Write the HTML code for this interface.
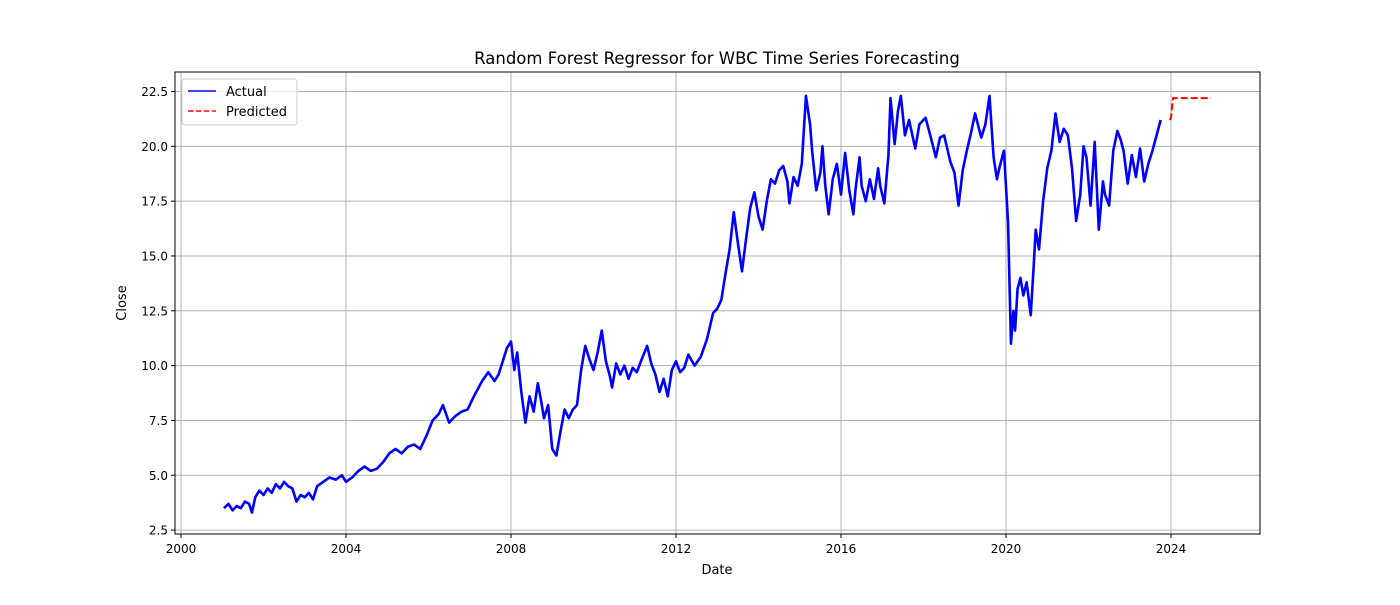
<!DOCTYPE html>
<html><head><meta charset="utf-8"><style>
body{margin:0;background:#fff;font-family:"Liberation Sans","DejaVu Sans",sans-serif;}
svg text{font-family:"DejaVu Sans","Liberation Sans",sans-serif;}
</style></head><body>
<svg id="chart" width="1400" height="600" xmlns="http://www.w3.org/2000/svg">
<rect width="1400" height="600" fill="#fff"/>
<g id="grid"></g><g id="series"></g>
<rect x="175" y="72" width="1085" height="462" fill="none" stroke="#000" stroke-width="1"/>
<g id="axes"></g>
<text x="717" y="64" text-anchor="middle" font-size="16.5">Random Forest Regressor for WBC Time Series Forecasting</text>
<text x="717" y="574" text-anchor="middle" font-size="13">Date</text>
<text x="126" y="303" text-anchor="middle" font-size="13" transform="rotate(-90 126 303)">Close</text>
<g>
<rect x="182" y="79" width="115" height="46" rx="3" fill="#fff" fill-opacity="0.8" stroke="#ccc"/>
<line x1="188" y1="91" x2="216" y2="91" stroke="#0000ff" stroke-width="1.5"/>
<text x="226" y="96" font-size="13">Actual</text>
<line x1="188" y1="111" x2="216" y2="111" stroke="#ff0000" stroke-width="1.5" stroke-dasharray="5.5,2.4"/>
<text x="226" y="116" font-size="13">Predicted</text>
</g>
</svg>
<script>
const xTicks=[2000,2004,2008,2012,2016,2020,2024];
const yTicks=[2.5,5.0,7.5,10.0,12.5,15.0,17.5,20.0,22.5];
const actualYears=[2001.04,2001.15,2001.25,2001.35,2001.45,2001.55,2001.65,2001.72,2001.8,2001.9,2002.0,2002.1,2002.2,2002.3,2002.4,2002.5,2002.6,2002.7,2002.8,2002.9,2003.0,2003.1,2003.2,2003.3,2003.45,2003.6,2003.75,2003.9,2004.0,2004.15,2004.3,2004.45,2004.6,2004.75,2004.9,2005.05,2005.2,2005.35,2005.5,2005.65,2005.8,2005.95,2006.1,2006.25,2006.35,2006.5,2006.65,2006.8,2006.95,2007.1,2007.3,2007.45,2007.6,2007.7,2007.8,2007.9,2008.0,2008.08,2008.15,2008.25,2008.35,2008.45,2008.55,2008.65,2008.72,2008.8,2008.9,2009.0,2009.1,2009.2,2009.3,2009.4,2009.5,2009.6,2009.7,2009.8,2009.9,2010.0,2010.1,2010.2,2010.3,2010.4,2010.45,2010.55,2010.65,2010.75,2010.85,2010.95,2011.05,2011.15,2011.3,2011.4,2011.5,2011.6,2011.7,2011.8,2011.9,2012.0,2012.1,2012.2,2012.3,2012.45,2012.6,2012.75,2012.9,2013.0,2013.1,2013.2,2013.3,2013.4,2013.5,2013.6,2013.7,2013.8,2013.9,2014.0,2014.1,2014.2,2014.3,2014.4,2014.5,2014.6,2014.7,2014.75,2014.85,2014.95,2015.05,2015.15,2015.25,2015.3,2015.4,2015.5,2015.55,2015.62,2015.7,2015.8,2015.9,2016.0,2016.1,2016.2,2016.3,2016.35,2016.45,2016.5,2016.6,2016.7,2016.8,2016.9,2016.95,2017.05,2017.15,2017.2,2017.3,2017.38,2017.45,2017.55,2017.65,2017.8,2017.9,2018.05,2018.15,2018.3,2018.4,2018.5,2018.65,2018.75,2018.85,2018.95,2019.05,2019.15,2019.25,2019.4,2019.5,2019.6,2019.7,2019.78,2019.85,2019.95,2020.05,2020.12,2020.18,2020.22,2020.28,2020.35,2020.42,2020.5,2020.6,2020.67,2020.72,2020.8,2020.9,2021.0,2021.1,2021.2,2021.3,2021.4,2021.5,2021.6,2021.7,2021.8,2021.88,2021.95,2022.05,2022.15,2022.25,2022.35,2022.4,2022.5,2022.6,2022.7,2022.78,2022.85,2022.95,2023.05,2023.15,2023.25,2023.35,2023.45,2023.55,2023.65,2023.75,2023.82,2023.9,2023.97];
const actualValues=[3.5,3.7,3.4,3.6,3.5,3.8,3.7,3.3,4.0,4.3,4.1,4.4,4.2,4.6,4.4,4.7,4.5,4.4,3.8,4.1,4.0,4.2,3.9,4.5,4.7,4.9,4.8,5.0,4.7,4.9,5.2,5.4,5.2,5.3,5.6,6.0,6.2,6.0,6.3,6.4,6.2,6.8,7.5,7.8,8.2,7.4,7.7,7.9,8.0,8.6,9.3,9.7,9.3,9.6,10.2,10.8,11.1,9.8,10.6,8.8,7.4,8.6,7.9,9.2,8.5,7.6,8.2,6.2,5.9,7.0,8.0,7.6,8.0,8.2,9.8,10.9,10.3,9.8,10.6,11.6,10.2,9.5,9.0,10.1,9.6,10.0,9.4,9.9,9.7,10.2,10.9,10.1,9.6,8.8,9.4,8.6,9.8,10.2,9.7,9.9,10.5,10.0,10.4,11.2,12.4,12.6,13.0,14.2,15.3,17.0,15.6,14.3,15.8,17.2,17.9,16.8,16.2,17.5,18.5,18.3,18.9,19.1,18.4,17.4,18.6,18.2,19.2,22.3,21.0,19.8,18.0,18.8,20.0,18.2,16.9,18.5,19.2,17.8,19.7,18.0,16.9,18.0,19.5,18.2,17.5,18.5,17.6,19.0,18.2,17.4,19.6,22.2,20.1,21.6,22.3,20.5,21.2,19.9,21.0,21.3,20.6,19.5,20.4,20.5,19.3,18.8,17.3,18.9,19.8,20.6,21.5,20.4,21.0,22.3,19.5,18.5,19.1,19.8,16.5,11.0,12.5,11.6,13.5,14.0,13.2,13.8,12.3,14.5,16.2,15.3,17.5,19.0,19.8,21.5,20.2,20.8,20.5,19.0,16.6,17.8,20.0,19.5,17.3,20.2,16.2,18.4,17.8,17.3,19.8,20.7,20.3,19.8,18.3,19.6,18.6,19.9,18.4,19.2,19.8,20.5,21.2];
const predYears=[2023.97,2024.0,2024.02,2024.05,2024.1,2024.97];
const predValues=[21.2,21.3,21.7,22.2,22.2,22.2];
const NS='http://www.w3.org/2000/svg';
const sx=y=>181+(y-2000)*41.25;
const sy=v=>91.5+(22.5-v)*21.93;
const grid=document.getElementById('grid'),axes=document.getElementById('axes'),series=document.getElementById('series');
function mk(tag,attrs,parent){const e=document.createElementNS(NS,tag);for(const k in attrs)e.setAttribute(k,attrs[k]);parent.appendChild(e);return e;}
xTicks.forEach(t=>{const x=sx(t);
const g=mk('line',{x1:x,y1:72,x2:x,y2:534,stroke:'#b0b0b0','stroke-width':1},grid);


mk('line',{x1:x,y1:534,x2:x,y2:538,stroke:'#000'},axes);
const tx=mk('text',{x:x,y:553,'text-anchor':'middle','font-size':12},axes);tx.textContent=t;

});
yTicks.forEach(t=>{const y=sy(t);
const g=mk('line',{x1:175,y1:y,x2:1260,y2:y,stroke:'#b0b0b0','stroke-width':1},grid);


mk('line',{x1:171,y1:y,x2:175,y2:y,stroke:'#000'},axes);
const tx=mk('text',{x:168,y:y+4.5,'text-anchor':'end','font-size':12},axes);tx.textContent=t.toFixed(1);

});
const a=mk('polyline',{points:actualYears.map((y,i)=>sx(y)+','+sy(actualValues[i])).join(' '),fill:'none',stroke:'#0000ff','stroke-width':2.6,'stroke-linejoin':'round'},series);


const p=mk('polyline',{points:predYears.map((y,i)=>sx(y)+','+sy(predValues[i])).join(' '),fill:'none',stroke:'#ff0000','stroke-width':2,'stroke-dasharray':'7,3'},series);


</script>
</body></html>
